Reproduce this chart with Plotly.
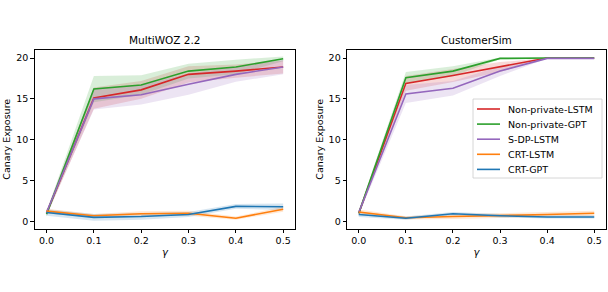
import plotly.graph_objects as go

gamma = [0.0, 0.1, 0.2, 0.3, 0.4, 0.5]
series_names = ["Non-private-LSTM", "Non-private-GPT", "S-DP-LSTM", "CRT-LSTM", "CRT-GPT"]
colors = ["#d62728", "#2ca02c", "#9467bd", "#ff7f0e", "#1f77b4"]
fills = ["rgba(214,39,40,0.18)", "rgba(44,160,44,0.18)", "rgba(148,103,189,0.18)",
         "rgba(255,127,14,0.18)", "rgba(31,119,180,0.18)"]

# MultiWOZ 2.2
mw_np_lstm = [1.0, 15.1, 16.1, 18.0, 18.4, 18.9]
mw_np_gpt = [0.9, 16.2, 16.7, 18.4, 18.9, 19.9]
mw_sdp_lstm = [1.1, 15.0, 15.5, 16.8, 18.0, 18.9]
mw_crt_lstm = [1.27, 0.7, 0.95, 1.0, 0.4, 1.5]
mw_crt_gpt = [1.1, 0.5, 0.6, 0.85, 1.85, 1.8]
mw_np_lstm_sd = [0.3, 1.3, 1.1, 1.0, 0.8, 0.8]
mw_np_gpt_sd = [0.3, 1.6, 1.2, 0.9, 0.9, 0.3]
mw_sdp_lstm_sd = [0.3, 1.3, 1.2, 1.3, 0.9, 0.9]
mw_crt_lstm_sd = [0.3, 0.2, 0.3, 0.3, 0.2, 0.3]
mw_crt_gpt_sd = [0.4, 0.4, 0.4, 0.3, 0.3, 0.4]

# CustomerSim
cs_np_lstm = [1.0, 16.9, 17.85, 18.9, 20.0, 20.0]
cs_np_gpt = [1.0, 17.6, 18.4, 19.95, 20.0, 20.0]
cs_sdp_lstm = [1.1, 15.6, 16.3, 18.4, 19.95, 19.95]
cs_crt_lstm = [1.15, 0.45, 0.6, 0.7, 0.85, 1.0]
cs_crt_gpt = [0.85, 0.4, 0.95, 0.7, 0.55, 0.55]
cs_np_lstm_sd = [0.3, 0.9, 0.8, 0.6, 0.0, 0.0]
cs_np_gpt_sd = [0.3, 0.7, 0.6, 0.1, 0.0, 0.0]
cs_sdp_lstm_sd = [0.3, 1.1, 0.9, 0.6, 0.0, 0.0]
cs_crt_lstm_sd = [0.3, 0.2, 0.3, 0.3, 0.3, 0.3]
cs_crt_gpt_sd = [0.3, 0.2, 0.2, 0.2, 0.2, 0.2]

panels = [
    ("x", "y", [mw_np_lstm, mw_np_gpt, mw_sdp_lstm, mw_crt_lstm, mw_crt_gpt],
     [mw_np_lstm_sd, mw_np_gpt_sd, mw_sdp_lstm_sd, mw_crt_lstm_sd, mw_crt_gpt_sd]),
    ("x2", "y2", [cs_np_lstm, cs_np_gpt, cs_sdp_lstm, cs_crt_lstm, cs_crt_gpt],
     [cs_np_lstm_sd, cs_np_gpt_sd, cs_sdp_lstm_sd, cs_crt_lstm_sd, cs_crt_gpt_sd]),
]

fig = go.Figure()
for xa, ya, vals, sds in panels:
    for i, (name, v, sd) in enumerate(zip(series_names, vals, sds)):
        up = [a + b for a, b in zip(v, sd)]
        lo = [a - b for a, b in zip(v, sd)]
        fig.add_trace(go.Scatter(x=gamma, y=up, xaxis=xa, yaxis=ya, mode="lines",
                                 line=dict(width=0), showlegend=False, hoverinfo="skip"))
        fig.add_trace(go.Scatter(x=gamma, y=lo, xaxis=xa, yaxis=ya, mode="lines",
                                 line=dict(width=0), fill="tonexty", fillcolor=fills[i],
                                 showlegend=False, hoverinfo="skip"))
    for i, (name, v) in enumerate(zip(series_names, vals)):
        fig.add_trace(go.Scatter(x=gamma, y=v, xaxis=xa, yaxis=ya, mode="lines", name=name,
                                 line=dict(color=colors[i], width=1.6), showlegend=False))

W, H = 608, 292
font = "DejaVu Sans"
axcommon = dict(showline=True, linecolor="black", linewidth=0.8, mirror=True, ticks="outside",
                ticklen=3.5, tickwidth=0.8, tickcolor="black", showgrid=False, zeroline=False,
                tickfont=dict(family=font, size=9.5, color="black"))
xcommon = dict(axcommon, range=[-0.025, 0.525], tickvals=gamma, tickformat=".1f")
ycommon = dict(axcommon, range=[-0.86, 20.98], tickvals=[0, 5, 10, 15, 20])

# legend drawn in the right panel (box + line samples + labels)
shapes = [dict(type="rect", xref="paper", yref="paper", x0=473 / W, x1=602 / W,
               y0=1 - 178 / H, y1=1 - 99 / H, line=dict(color="#cccccc", width=0.8),
               fillcolor="rgba(255,255,255,0.85)", layer="above")]
annotations = [
    dict(text="MultiWOZ 2.2", x=(34.7 + 295) / 2 / W, y=1 - 40 / H, xref="paper", yref="paper",
         showarrow=False, xanchor="center", yanchor="middle",
         font=dict(family=font, size=10.5, color="black")),
    dict(text="CustomerSim", x=(347 + 606) / 2 / W, y=1 - 40 / H, xref="paper", yref="paper",
         showarrow=False, xanchor="center", yanchor="middle",
         font=dict(family=font, size=10.5, color="black")),
]
for i, name in enumerate(series_names):
    yc = 1 - (109 + 15.1 * i) / H
    shapes.append(dict(type="line", xref="paper", yref="paper", x0=477 / W, x1=500 / W,
                       y0=yc, y1=yc, line=dict(color=colors[i], width=1.6), layer="above"))
    annotations.append(dict(text=name, x=506 / W, y=yc, xref="paper", yref="paper",
                            showarrow=False, xanchor="left", yanchor="middle",
                            font=dict(family=font, size=9.5, color="black")))

fig.update_layout(
    width=W, height=H, margin=dict(l=0, r=0, t=0, b=0),
    paper_bgcolor="white", plot_bgcolor="white", showlegend=False,
    xaxis=dict(xcommon, domain=[34.7 / W, 295 / W], anchor="y",
               title=dict(text="<i>γ</i>", font=dict(family=font, size=10, color="black"), standoff=3)),
    yaxis=dict(ycommon, domain=[1 - 228.5 / H, 1 - 50 / H], anchor="x",
               title=dict(text="Canary Exposure", font=dict(family=font, size=9.5, color="black"), standoff=3)),
    xaxis2=dict(xcommon, domain=[347 / W, 606 / W], anchor="y2",
                title=dict(text="<i>γ</i>", font=dict(family=font, size=10, color="black"), standoff=3)),
    yaxis2=dict(ycommon, domain=[1 - 228.5 / H, 1 - 50 / H], anchor="x2",
                title=dict(text="Canary Exposure", font=dict(family=font, size=9.5, color="black"), standoff=3)),
    shapes=shapes,
    annotations=annotations,
)

fig.write_html("out.html", config={"displayModeBar": False},
               post_script="document.body.style.margin='0';document.body.style.overflow='hidden';")
